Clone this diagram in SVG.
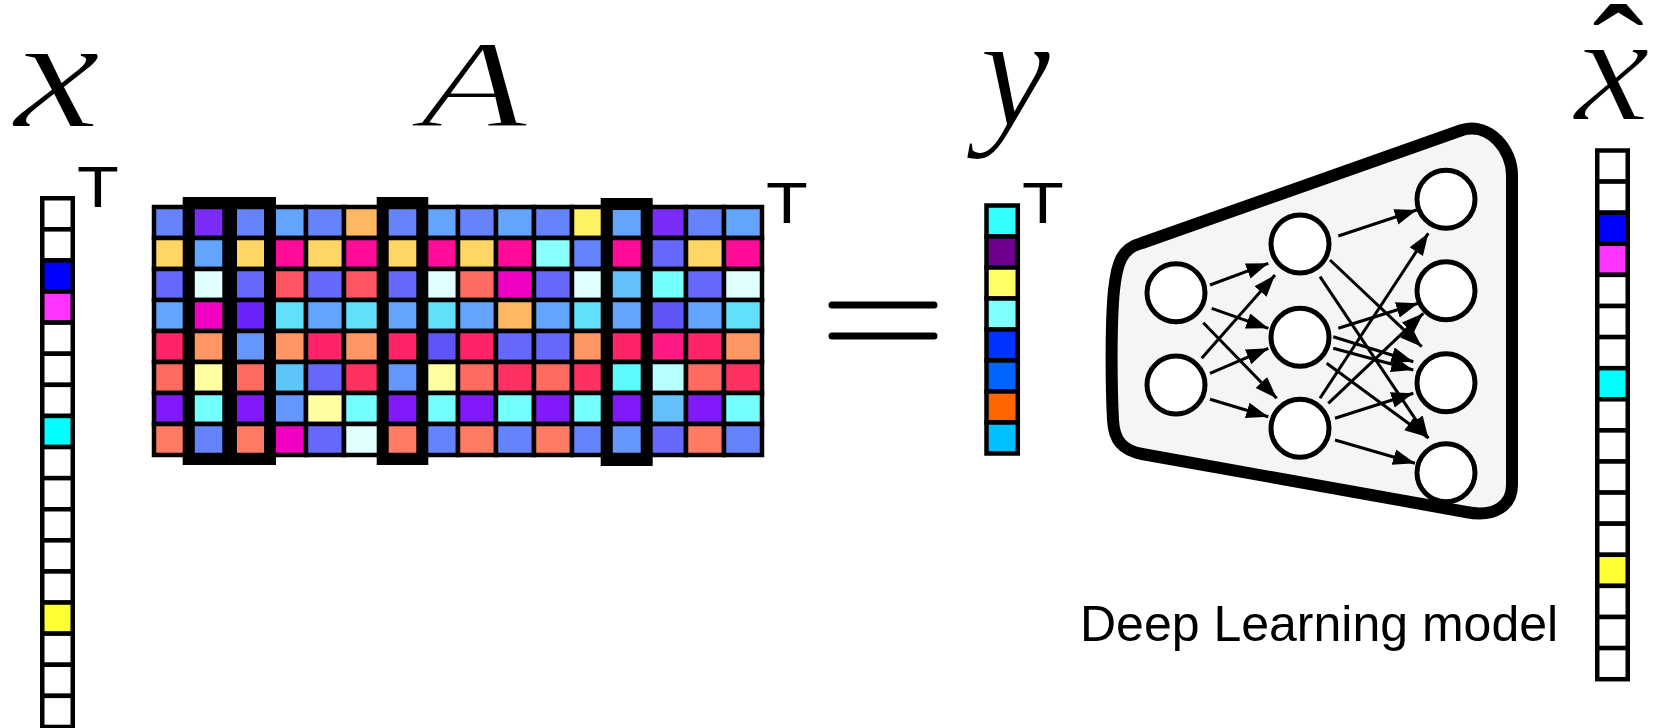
<svg xmlns="http://www.w3.org/2000/svg" width="1661" height="728" viewBox="0 0 1661 728">
<style>
.math{font-family:"Liberation Serif","DejaVu Serif",serif;font-style:italic;fill:#000;stroke:#fff;stroke-width:2}
.tt{font-family:"Liberation Sans",Arial,sans-serif;font-size:57px;fill:#000}
.vc{stroke:#000;stroke-width:4.5;fill:#fff}
.mc{stroke:#000;stroke-width:4.5}
.hl{fill:none;stroke:#000;stroke-width:12}
.neuron{fill:#fff;stroke:#000;stroke-width:5}
.edge{stroke:#000;stroke-width:3;fill:none;marker-end:url(#ah)}
.b1{fill:#6584fb}.b2{fill:#6568fb}.b3{fill:#5e55f6}.lb{fill:#63a5fe}.lb2{fill:#6496fc}
.sky{fill:#62c0fb}.sky2{fill:#5ec6f6}.pu{fill:#7b2cf8}.vi{fill:#8219fb}.vi2{fill:#6c22fb}
.or{fill:#ffb862}.yo{fill:#ffd665}.pk{fill:#ff0c98}.mg{fill:#ef00c2}.sa1{fill:#ff5462}
.sa2{fill:#ff6b61}.sa3{fill:#ff7b63}.rp{fill:#ff2468}.or2{fill:#ff9764}.pc{fill:#e2ffff}
.cy2{fill:#62dffa}.cy{fill:#74ffff}.cy3{fill:#5cfafa}.py{fill:#ffffa2}.rd{fill:#ff3062}
.ye{fill:#fff262}.lc{fill:#8affff}.lc2{fill:#b6ffff}.pk2{fill:#ff1982}
</style>
<defs>
<marker id="ah" markerUnits="userSpaceOnUse" markerWidth="23" markerHeight="17" refX="22" refY="8" orient="auto"><path d="M0,0 L22,8 L0,16 z" fill="#000"/></marker>
</defs>
<rect width="1661" height="728" fill="#fff"/>

<g id="label-x"><text class="math" font-size="160" text-anchor="middle" transform="translate(57,127) scale(1.22,1)">x</text></g>
<g id="label-A"><text class="math" font-size="125" text-anchor="middle" transform="translate(474,127) scale(1.4,1)">A</text></g>
<g id="label-y"><text class="math" x="1015" y="126" font-size="160" text-anchor="middle">y</text></g>
<g id="label-xhat"><text class="math" text-anchor="middle" transform="translate(1612,0) scale(1.1,1)"><tspan x="5.5" y="102" font-size="140" font-style="normal" stroke="none">ˆ</tspan><tspan x="0" y="120" font-size="155">x</tspan></text></g>

<g id="vector-x">
<rect class="vc" x="42.25" y="198.25" width="30.5" height="31.1"/>
<rect class="vc" x="42.25" y="229.35" width="30.5" height="31.1"/>
<rect class="vc" x="42.25" y="260.45" width="30.5" height="31.1" style="fill:#0000ff"/>
<rect class="vc" x="42.25" y="291.55" width="30.5" height="31.1" style="fill:#ff33ff"/>
<rect class="vc" x="42.25" y="322.65" width="30.5" height="31.1"/>
<rect class="vc" x="42.25" y="353.75" width="30.5" height="31.1"/>
<rect class="vc" x="42.25" y="384.85" width="30.5" height="31.1"/>
<rect class="vc" x="42.25" y="415.95" width="30.5" height="31.1" style="fill:#00ffff"/>
<rect class="vc" x="42.25" y="447.05" width="30.5" height="31.1"/>
<rect class="vc" x="42.25" y="478.15" width="30.5" height="31.1"/>
<rect class="vc" x="42.25" y="509.25" width="30.5" height="31.1"/>
<rect class="vc" x="42.25" y="540.35" width="30.5" height="31.1"/>
<rect class="vc" x="42.25" y="571.45" width="30.5" height="31.1"/>
<rect class="vc" x="42.25" y="602.55" width="30.5" height="31.1" style="fill:#ffff33"/>
<rect class="vc" x="42.25" y="633.65" width="30.5" height="31.1"/>
<rect class="vc" x="42.25" y="664.75" width="30.5" height="31.1"/>
<rect class="vc" x="42.25" y="695.85" width="30.5" height="31.1"/>
<text class="tt" transform="translate(98,206.7) scale(1.2,1)" text-anchor="middle">T</text>
</g>

<g id="matrix-A">
<g transform="translate(154,207)">
<g>
<rect class="mc b1" x="0" y="0" width="38" height="31"/><rect class="mc pu" x="38" y="0" width="38" height="31"/><rect class="mc b1" x="76" y="0" width="38" height="31"/><rect class="mc lb" x="114" y="0" width="38" height="31"/><rect class="mc b1" x="152" y="0" width="38" height="31"/><rect class="mc or" x="190" y="0" width="38" height="31"/><rect class="mc b1" x="228" y="0" width="38" height="31"/><rect class="mc lb" x="266" y="0" width="38" height="31"/><rect class="mc b1" x="304" y="0" width="38" height="31"/><rect class="mc lb" x="342" y="0" width="38" height="31"/><rect class="mc b1" x="380" y="0" width="38" height="31"/><rect class="mc ye" x="418" y="0" width="38" height="31"/><rect class="mc lb" x="456" y="0" width="38" height="31"/><rect class="mc pu" x="494" y="0" width="38" height="31"/><rect class="mc b1" x="532" y="0" width="38" height="31"/><rect class="mc lb" x="570" y="0" width="38" height="31"/>
</g>
<g transform="translate(0,31)">
<rect class="mc yo" x="0" y="0" width="38" height="31"/><rect class="mc lb" x="38" y="0" width="38" height="31"/><rect class="mc yo" x="76" y="0" width="38" height="31"/><rect class="mc pk" x="114" y="0" width="38" height="31"/><rect class="mc yo" x="152" y="0" width="38" height="31"/><rect class="mc pk" x="190" y="0" width="38" height="31"/><rect class="mc yo" x="228" y="0" width="38" height="31"/><rect class="mc pk" x="266" y="0" width="38" height="31"/><rect class="mc yo" x="304" y="0" width="38" height="31"/><rect class="mc pk" x="342" y="0" width="38" height="31"/><rect class="mc lc" x="380" y="0" width="38" height="31"/><rect class="mc b1" x="418" y="0" width="38" height="31"/><rect class="mc pk" x="456" y="0" width="38" height="31"/><rect class="mc b2" x="494" y="0" width="38" height="31"/><rect class="mc yo" x="532" y="0" width="38" height="31"/><rect class="mc pk" x="570" y="0" width="38" height="31"/>
</g>
<g transform="translate(0,62)">
<rect class="mc b2" x="0" y="0" width="38" height="31"/><rect class="mc pc" x="38" y="0" width="38" height="31"/><rect class="mc b2" x="76" y="0" width="38" height="31"/><rect class="mc sa1" x="114" y="0" width="38" height="31"/><rect class="mc b2" x="152" y="0" width="38" height="31"/><rect class="mc sa1" x="190" y="0" width="38" height="31"/><rect class="mc b2" x="228" y="0" width="38" height="31"/><rect class="mc pc" x="266" y="0" width="38" height="31"/><rect class="mc sa2" x="304" y="0" width="38" height="31"/><rect class="mc mg" x="342" y="0" width="38" height="31"/><rect class="mc b2" x="380" y="0" width="38" height="31"/><rect class="mc pc" x="418" y="0" width="38" height="31"/><rect class="mc sky" x="456" y="0" width="38" height="31"/><rect class="mc cy" x="494" y="0" width="38" height="31"/><rect class="mc b2" x="532" y="0" width="38" height="31"/><rect class="mc pc" x="570" y="0" width="38" height="31"/>
</g>
<g transform="translate(0,93)">
<rect class="mc lb" x="0" y="0" width="38" height="31"/><rect class="mc mg" x="38" y="0" width="38" height="31"/><rect class="mc vi2" x="76" y="0" width="38" height="31"/><rect class="mc cy2" x="114" y="0" width="38" height="31"/><rect class="mc lb" x="152" y="0" width="38" height="31"/><rect class="mc cy2" x="190" y="0" width="38" height="31"/><rect class="mc lb" x="228" y="0" width="38" height="31"/><rect class="mc cy2" x="266" y="0" width="38" height="31"/><rect class="mc lb" x="304" y="0" width="38" height="31"/><rect class="mc or" x="342" y="0" width="38" height="31"/><rect class="mc lb" x="380" y="0" width="38" height="31"/><rect class="mc cy2" x="418" y="0" width="38" height="31"/><rect class="mc lb" x="456" y="0" width="38" height="31"/><rect class="mc b3" x="494" y="0" width="38" height="31"/><rect class="mc lb" x="532" y="0" width="38" height="31"/><rect class="mc cy2" x="570" y="0" width="38" height="31"/>
</g>
<g transform="translate(0,124)">
<rect class="mc rp" x="0" y="0" width="38" height="31"/><rect class="mc or2" x="38" y="0" width="38" height="31"/><rect class="mc lb2" x="76" y="0" width="38" height="31"/><rect class="mc or2" x="114" y="0" width="38" height="31"/><rect class="mc rp" x="152" y="0" width="38" height="31"/><rect class="mc or2" x="190" y="0" width="38" height="31"/><rect class="mc rp" x="228" y="0" width="38" height="31"/><rect class="mc b3" x="266" y="0" width="38" height="31"/><rect class="mc rp" x="304" y="0" width="38" height="31"/><rect class="mc b2" x="342" y="0" width="38" height="31"/><rect class="mc b2" x="380" y="0" width="38" height="31"/><rect class="mc or2" x="418" y="0" width="38" height="31"/><rect class="mc rp" x="456" y="0" width="38" height="31"/><rect class="mc pk2" x="494" y="0" width="38" height="31"/><rect class="mc rp" x="532" y="0" width="38" height="31"/><rect class="mc or2" x="570" y="0" width="38" height="31"/>
</g>
<g transform="translate(0,155)">
<rect class="mc sa2" x="0" y="0" width="38" height="31"/><rect class="mc py" x="38" y="0" width="38" height="31"/><rect class="mc sa2" x="76" y="0" width="38" height="31"/><rect class="mc sky2" x="114" y="0" width="38" height="31"/><rect class="mc b2" x="152" y="0" width="38" height="31"/><rect class="mc rd" x="190" y="0" width="38" height="31"/><rect class="mc lb2" x="228" y="0" width="38" height="31"/><rect class="mc py" x="266" y="0" width="38" height="31"/><rect class="mc sa2" x="304" y="0" width="38" height="31"/><rect class="mc rd" x="342" y="0" width="38" height="31"/><rect class="mc sa2" x="380" y="0" width="38" height="31"/><rect class="mc rd" x="418" y="0" width="38" height="31"/><rect class="mc cy3" x="456" y="0" width="38" height="31"/><rect class="mc lc2" x="494" y="0" width="38" height="31"/><rect class="mc sa2" x="532" y="0" width="38" height="31"/><rect class="mc rd" x="570" y="0" width="38" height="31"/>
</g>
<g transform="translate(0,186)">
<rect class="mc vi" x="0" y="0" width="38" height="31"/><rect class="mc cy" x="38" y="0" width="38" height="31"/><rect class="mc vi" x="76" y="0" width="38" height="31"/><rect class="mc lb2" x="114" y="0" width="38" height="31"/><rect class="mc py" x="152" y="0" width="38" height="31"/><rect class="mc cy" x="190" y="0" width="38" height="31"/><rect class="mc vi" x="228" y="0" width="38" height="31"/><rect class="mc cy" x="266" y="0" width="38" height="31"/><rect class="mc vi" x="304" y="0" width="38" height="31"/><rect class="mc cy" x="342" y="0" width="38" height="31"/><rect class="mc vi" x="380" y="0" width="38" height="31"/><rect class="mc cy" x="418" y="0" width="38" height="31"/><rect class="mc vi" x="456" y="0" width="38" height="31"/><rect class="mc sky" x="494" y="0" width="38" height="31"/><rect class="mc vi" x="532" y="0" width="38" height="31"/><rect class="mc cy" x="570" y="0" width="38" height="31"/>
</g>
<g transform="translate(0,217)">
<rect class="mc sa3" x="0" y="0" width="38" height="31"/><rect class="mc b1" x="38" y="0" width="38" height="31"/><rect class="mc sa3" x="76" y="0" width="38" height="31"/><rect class="mc mg" x="114" y="0" width="38" height="31"/><rect class="mc b2" x="152" y="0" width="38" height="31"/><rect class="mc pc" x="190" y="0" width="38" height="31"/><rect class="mc sa3" x="228" y="0" width="38" height="31"/><rect class="mc b1" x="266" y="0" width="38" height="31"/><rect class="mc sa3" x="304" y="0" width="38" height="31"/><rect class="mc b1" x="342" y="0" width="38" height="31"/><rect class="mc sa3" x="380" y="0" width="38" height="31"/><rect class="mc b1" x="418" y="0" width="38" height="31"/><rect class="mc lb2" x="456" y="0" width="38" height="31"/><rect class="mc b2" x="494" y="0" width="38" height="31"/><rect class="mc sa3" x="532" y="0" width="38" height="31"/><rect class="mc b1" x="570" y="0" width="38" height="31"/>
</g>
</g>
<rect class="hl" x="188.7" y="203" width="39.6" height="256"/>
<rect class="hl" x="231" y="203" width="39" height="256"/>
<rect class="hl" x="382.7" y="203" width="39.6" height="256"/>
<rect class="hl" x="606.7" y="204" width="40" height="256"/>
<text class="tt" transform="translate(787,222.7) scale(1.2,1)" text-anchor="middle">T</text>
</g>

<g id="equals">
<line x1="832" y1="305" x2="934" y2="305" stroke="#000" stroke-width="7" stroke-linecap="round"/>
<line x1="832" y1="336" x2="934" y2="336" stroke="#000" stroke-width="7" stroke-linecap="round"/>
</g>

<g id="vector-y">
<rect class="vc" x="986.5" y="205.5" width="31.3" height="31" style="fill:#33ffff"/>
<rect class="vc" x="986.5" y="236.5" width="31.3" height="31" style="fill:#6f008f"/>
<rect class="vc" x="986.5" y="267.5" width="31.3" height="31" style="fill:#ffff66"/>
<rect class="vc" x="986.5" y="298.5" width="31.3" height="31" style="fill:#80ffff"/>
<rect class="vc" x="986.5" y="329.5" width="31.3" height="31" style="fill:#0033ff"/>
<rect class="vc" x="986.5" y="360.5" width="31.3" height="31" style="fill:#0064ff"/>
<rect class="vc" x="986.5" y="391.5" width="31.3" height="31" style="fill:#ff6400"/>
<rect class="vc" x="986.5" y="422.5" width="31.3" height="31" style="fill:#00c0ff"/>
<text class="tt" transform="translate(1043,222.7) scale(1.2,1)" text-anchor="middle">T</text>
</g>

<g id="dl-model">
<path d="M1142 243 L1462 130 C1490 122 1512 150 1512 175 L1512 485 C1512 505 1495 518 1466 512 L1142 454 C1122 450 1114 440 1113 420 C1111 380 1111 320 1114 290 C1117 262 1122 248 1142 243 Z" fill="#f4f5f7" stroke="#000" stroke-width="12" stroke-linejoin="round"/>
<text x="1080" y="641" font-family="Liberation Sans, Arial, sans-serif" font-size="50" fill="#000">Deep Learning model</text>
</g>

<g id="connectors">
<line class="edge" x1="1210" y1="285" x2="1268.3" y2="263.3"/>
<line class="edge" x1="1211.7" y1="308.3" x2="1268.3" y2="328.3"/>
<line class="edge" x1="1203.3" y1="322.7" x2="1276.7" y2="398.3"/>
<line class="edge" x1="1201.7" y1="358.3" x2="1275" y2="275"/>
<line class="edge" x1="1210" y1="373.3" x2="1268.3" y2="348.3"/>
<line class="edge" x1="1210" y1="399.3" x2="1268.3" y2="416.7"/>
<line class="edge" x1="1338.3" y1="236" x2="1416.7" y2="210"/>
<line class="edge" x1="1330" y1="260" x2="1421.7" y2="346.7"/>
<line class="edge" x1="1320" y1="276.7" x2="1428.3" y2="438.3"/>
<line class="edge" x1="1338.3" y1="328.3" x2="1418.3" y2="303.3"/>
<line class="edge" x1="1333.3" y1="336.7" x2="1413.3" y2="361.7"/>
<line class="edge" x1="1333.3" y1="348.3" x2="1413.3" y2="370"/>
<line class="edge" x1="1326.7" y1="363.3" x2="1426.7" y2="436.7"/>
<line class="edge" x1="1320" y1="398.3" x2="1428.3" y2="233.3"/>
<line class="edge" x1="1328.3" y1="403.3" x2="1423.3" y2="313.3"/>
<line class="edge" x1="1335" y1="418.3" x2="1413.3" y2="393.3"/>
<line class="edge" x1="1335" y1="440" x2="1415" y2="463.3"/>
</g>

<g id="in-1"><circle class="neuron" cx="1176" cy="292.7" r="29"/></g>
<g id="in-2"><circle class="neuron" cx="1176" cy="385" r="29"/></g>
<g id="hid-1"><circle class="neuron" cx="1300" cy="244" r="29"/></g>
<g id="hid-2"><circle class="neuron" cx="1300" cy="337.3" r="29"/></g>
<g id="hid-3"><circle class="neuron" cx="1300" cy="428.3" r="29"/></g>
<g id="out-1"><circle class="neuron" cx="1446" cy="199.3" r="29"/></g>
<g id="out-2"><circle class="neuron" cx="1446" cy="290.7" r="29"/></g>
<g id="out-3"><circle class="neuron" cx="1446" cy="382.7" r="29"/></g>
<g id="out-4"><circle class="neuron" cx="1446" cy="472.7" r="29"/></g>

<g id="vector-xhat">
<rect class="vc" x="1597.25" y="150.5" width="30.5" height="31.1"/>
<rect class="vc" x="1597.25" y="181.6" width="30.5" height="31.1"/>
<rect class="vc" x="1597.25" y="212.7" width="30.5" height="31.1" style="fill:#0000ff"/>
<rect class="vc" x="1597.25" y="243.8" width="30.5" height="31.1" style="fill:#ff33ff"/>
<rect class="vc" x="1597.25" y="274.9" width="30.5" height="31.1"/>
<rect class="vc" x="1597.25" y="306" width="30.5" height="31.1"/>
<rect class="vc" x="1597.25" y="337.1" width="30.5" height="31.1"/>
<rect class="vc" x="1597.25" y="368.2" width="30.5" height="31.1" style="fill:#00ffff"/>
<rect class="vc" x="1597.25" y="399.3" width="30.5" height="31.1"/>
<rect class="vc" x="1597.25" y="430.4" width="30.5" height="31.1"/>
<rect class="vc" x="1597.25" y="461.5" width="30.5" height="31.1"/>
<rect class="vc" x="1597.25" y="492.6" width="30.5" height="31.1"/>
<rect class="vc" x="1597.25" y="523.7" width="30.5" height="31.1"/>
<rect class="vc" x="1597.25" y="554.8" width="30.5" height="31.1" style="fill:#ffff33"/>
<rect class="vc" x="1597.25" y="585.9" width="30.5" height="31.1"/>
<rect class="vc" x="1597.25" y="617" width="30.5" height="31.1"/>
<rect class="vc" x="1597.25" y="648.1" width="30.5" height="31.1"/>
</g>
</svg>
